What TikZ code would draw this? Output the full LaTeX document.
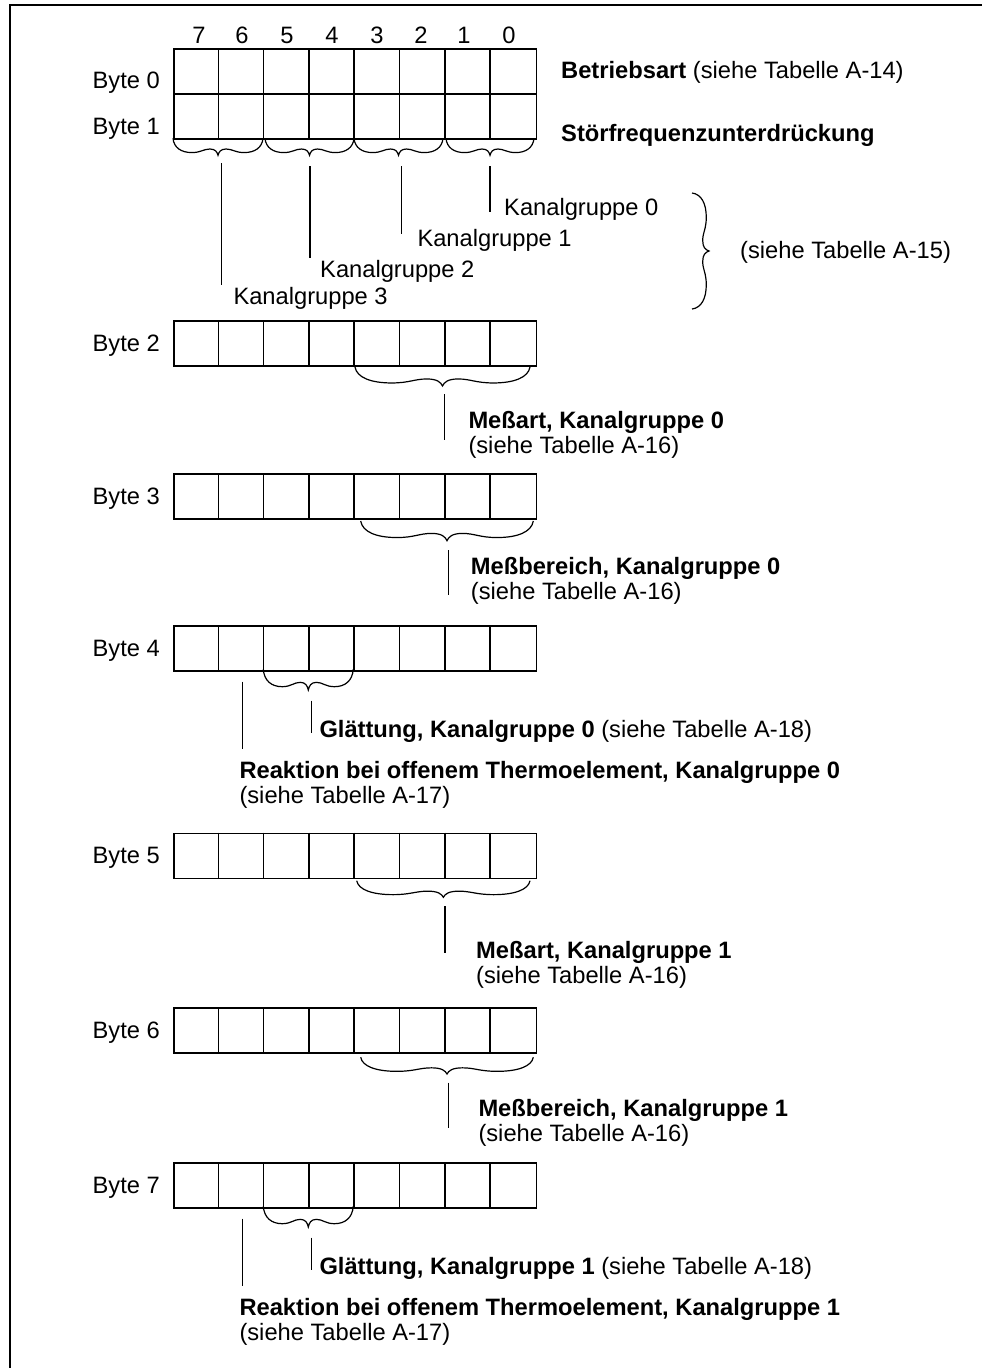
\documentclass[tikz,border=0pt]{standalone}
\usepackage{fontspec}
\setmainfont{Liberation Sans}
\newcommand{\ubrace}[5]{% #1 name, #2 xLeft, #3 yTop, #4 width, #5 depth
  \begin{scope}[shift={(#2,#3)},xscale=#4,yscale=#5]
    \draw[brc] (0,0) .. controls (0.01,0.55) and (0.09,0.84) .. (0.21,0.84)
      .. controls (0.31,0.84) and (0.34,0.63) .. (0.41,0.63)
      .. controls (0.47,0.63) and (0.49,0.8) .. (0.5,1)
      .. controls (0.51,0.8) and (0.53,0.63) .. (0.59,0.63)
      .. controls (0.66,0.63) and (0.69,0.84) .. (0.79,0.84)
      .. controls (0.91,0.84) and (0.99,0.55) .. (1,0);
    \coordinate (#1) at (0.5,1);
  \end{scope}}
\newcommand{\byterow}[2]{% #1 name, #2 yTop
  \node[rowbox, anchor=north west] (#1) at (173,#2) {};
  \foreach \i in {1,...,7} \draw[cellline] ({173+45.3125*\i},#2) -- ++(0,45);}
\begin{document}
\begin{tikzpicture}[x=1pt,y=-1pt,
  every node/.style={font=\fontsize{23.7}{28}\selectfont, inner sep=0pt},
  txt/.style={anchor=base west},
  lbl/.style={anchor=base east},
  bitno/.style={anchor=base},
  rowbox/.style={draw, line width=1.6pt, minimum width=362.5pt, minimum height=45pt},
  cellline/.style={line width=1.6pt},
  lead/.style={line width=1.2pt},
  brc/.style={line width=1.2pt},
  frame/.style={line width=1.4pt}]
\useasboundingbox (0,0) rectangle (982,1368);
\draw[frame] (10,1368) -- (10,5) -- (982,5);

% bit numbers
\foreach \n/\x in {7/199,6/242,5/287,4/332,3/377,2/421,1/464,0/509}
  \node[bitno] (bit\n) at (\x,43.6) {\n};

% byte rows
\byterow{r0}{48}
\byterow{r1}{93}
\byterow{r2}{320}
\byterow{r3}{473}
\byterow{r4}{625}
\byterow{r5}{832.5}
\byterow{r6}{1007}
\byterow{r7}{1162}

\node[lbl] (l0) at (160,88.6) {Byte 0};
\node[lbl] (l1) at (160,134.6) {Byte 1};
\node[lbl] (l2) at (160,351) {Byte 2};
\node[lbl] (l3) at (160,504) {Byte 3};
\node[lbl] (l4) at (160,656) {Byte 4};
\node[lbl] (l5) at (160,863.5) {Byte 5};
\node[lbl] (l6) at (160,1038) {Byte 6};
\node[lbl] (l7) at (160,1193) {Byte 7};

% Byte 0 / 1 descriptions
\node[txt] (d0) at (561,78) {\textbf{Betriebsart} (siehe Tabelle A-14)};
\node[txt] (d1) at (561,141) {\textbf{Störfrequenzunterdrückung}};

% braces under byte 1
\ubrace{t3}{173}{138.3}{90}{17}
\ubrace{t2}{265}{138.3}{89}{17}
\ubrace{t1}{354}{138.3}{89}{17}
\ubrace{t0}{446}{138.3}{88}{17}

\node[txt] (k0) at (504,215.7) {Kanalgruppe 0};
\node[txt] (k1) at (417.3,246.7) {Kanalgruppe 1};
\node[txt] (k2) at (320,277) {Kanalgruppe 2};
\node[txt] (k3) at (233.3,304) {Kanalgruppe 3};

\coordinate (k0a) at (490,166);   \coordinate (k0b) at (490,211.7);
\coordinate (k1a) at (401.3,166); \coordinate (k1b) at (401.3,234);
\coordinate (k2a) at (310,166);   \coordinate (k2b) at (310,258.3);
\coordinate (k3a) at (221.7,163.3); \coordinate (k3b) at (221.7,285);
\draw[lead] (k0a) -- (k0b);
\draw[lead] (k1a) -- (k1b);
\draw[lead] (k2a) -- (k2b);
\draw[lead] (k3a) -- (k3b);

% right brace
\begin{scope}[shift={(692,309)},rotate=90,xscale=116,yscale=17]
  \draw[brc] (0,0) .. controls (0.01,0.55) and (0.09,0.84) .. (0.21,0.84)
      .. controls (0.31,0.84) and (0.34,0.63) .. (0.41,0.63)
      .. controls (0.47,0.63) and (0.49,0.8) .. (0.5,1)
      .. controls (0.51,0.8) and (0.53,0.63) .. (0.59,0.63)
      .. controls (0.66,0.63) and (0.69,0.84) .. (0.79,0.84)
      .. controls (0.91,0.84) and (0.99,0.55) .. (1,0);
\end{scope}
\node[txt] (s15) at (740,258) {(siehe Tabelle A-15)};

% Byte 2
\ubrace{b2}{355}{367}{175}{19}
\coordinate (m2a) at (444.3,394.3); \coordinate (m2b) at (444.3,440);
\draw[lead] (m2a) -- (m2b);
\node[txt] (m2) at (468.3,428.5) {\textbf{Meßart, Kanalgruppe 0}};
\node[txt] (m2s) at (468.3,453.5) {(siehe Tabelle A-16)};

% Byte 3
\ubrace{b3}{360.7}{521}{172.6}{19.7}
\coordinate (m3a) at (448.3,550); \coordinate (m3b) at (448.3,595);
\draw[lead] (m3a) -- (m3b);
\node[txt] (m3) at (470.7,574.4) {\textbf{Meßbereich, Kanalgruppe 0}};
\node[txt] (m3s) at (470.7,599.4) {(siehe Tabelle A-16)};

% Byte 4
\ubrace{b4}{263.3}{669.3}{90}{20.7}
\coordinate (g4a) at (311.7,700.7); \coordinate (g4b) at (311.7,732.7);
\coordinate (r4a) at (242.3,681.7); \coordinate (r4b) at (242.3,749.3);
\draw[lead] (g4a) -- (g4b);
\draw[lead] (r4a) -- (r4b);
\node[txt] (g4) at (319.3,737.3) {\textbf{Glättung, Kanalgruppe 0} (siehe Tabelle A-18)};
\node[txt] (r4) at (239.3,778) {\textbf{Reaktion bei offenem Thermoelement, Kanalgruppe 0}};
\node[txt] (r4s) at (239.3,803) {(siehe Tabelle A-17)};

% Byte 5
\ubrace{b5}{356.7}{880.7}{173.3}{16.6}
\coordinate (m5a) at (445,906); \coordinate (m5b) at (445,952.7);
\draw[lead] (m5a) -- (m5b);
\node[txt] (m5) at (476,958.3) {\textbf{Meßart, Kanalgruppe 1}};
\node[txt] (m5s) at (476,983.3) {(siehe Tabelle A-16)};

% Byte 6
\ubrace{b6}{360.7}{1057.3}{172.6}{16.7}
\coordinate (m6a) at (448.3,1082.7); \coordinate (m6b) at (448.3,1128.3);
\draw[lead] (m6a) -- (m6b);
\node[txt] (m6) at (478.3,1116.7) {\textbf{Meßbereich, Kanalgruppe 1}};
\node[txt] (m6s) at (478.3,1141.7) {(siehe Tabelle A-16)};

% Byte 7
\ubrace{b7}{263.3}{1206.3}{90}{20.7}
\coordinate (g7a) at (311.7,1237.7); \coordinate (g7b) at (311.7,1269.7);
\coordinate (r7a) at (242.3,1218.7); \coordinate (r7b) at (242.3,1286.3);
\draw[lead] (g7a) -- (g7b);
\draw[lead] (r7a) -- (r7b);
\node[txt] (g7) at (319.3,1274.3) {\textbf{Glättung, Kanalgruppe 1} (siehe Tabelle A-18)};
\node[txt] (r7) at (239.3,1315) {\textbf{Reaktion bei offenem Thermoelement, Kanalgruppe 1}};
\node[txt] (r7s) at (239.3,1340) {(siehe Tabelle A-17)};
\end{tikzpicture}
\end{document}
